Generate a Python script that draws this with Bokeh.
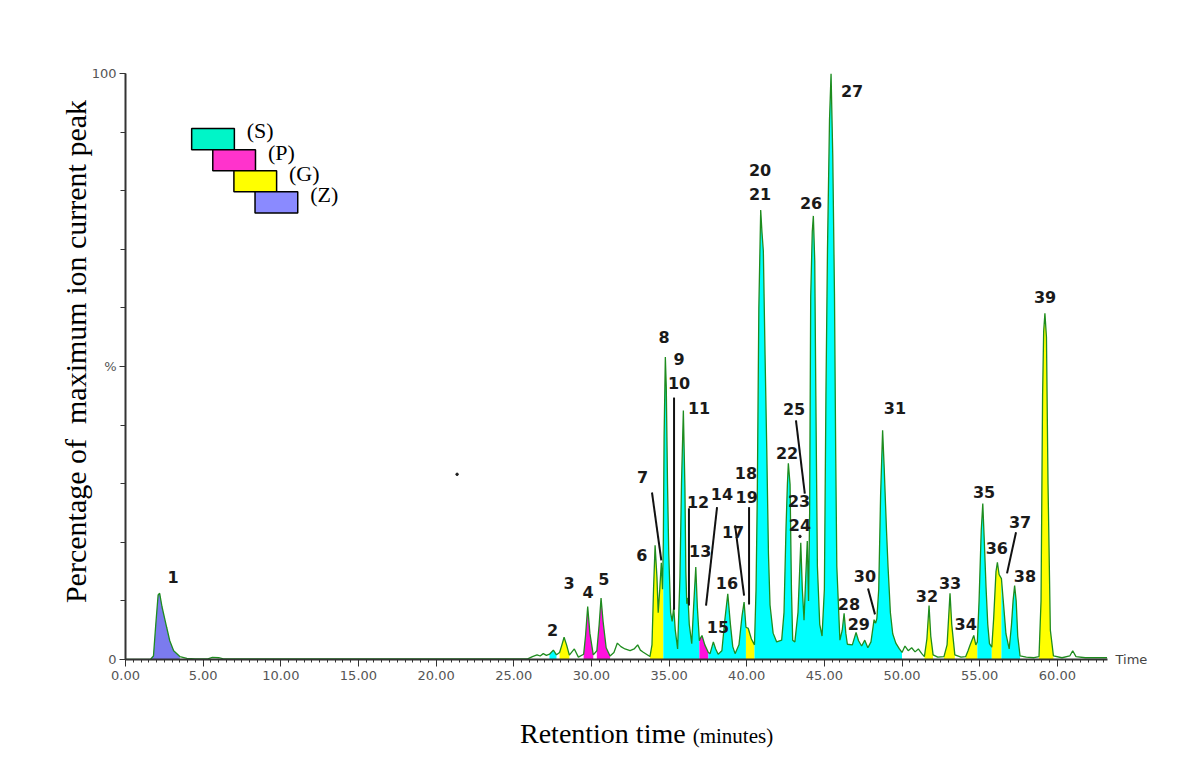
import numpy as np
from bokeh.plotting import figure
from bokeh.layouts import column
from bokeh.models import Range1d, FixedTicker, NumeralTickFormatter, LinearAxis, Div
from bokeh.core.properties import value
from bokeh.embed import file_html
from bokeh.resources import INLINE

# ---------------- data ----------------
trace_time = [0.0, 1.6, 1.8, 1.95, 2.1, 2.2, 2.35, 2.65, 2.85, 3.1, 3.5, 3.95, 4.5, 5.3, 5.6, 6.0, 6.3,
              25.9, 26.2, 26.5, 26.7, 26.9, 27.1, 27.3, 27.55, 27.75, 27.95, 28.1, 28.24, 28.4, 28.58,
              28.9, 29.16, 29.5, 29.62, 29.76, 29.9, 30.12, 30.35, 30.5, 30.62, 30.75, 30.95, 31.2,
              31.45, 31.67, 31.9, 32.16, 32.49, 32.75, 32.98, 33.15, 33.34, 33.77, 33.9, 34.0, 34.1,
              34.22, 34.3, 34.4, 34.5, 34.58, 34.63, 34.68, 34.76, 34.82, 34.9, 34.98, 35.1, 35.2,
              35.3, 35.4, 35.55, 35.7, 35.8, 35.92, 36.02, 36.08, 36.14, 36.22, 36.3, 36.46, 36.58,
              36.72, 36.82, 36.95, 37.05, 37.12, 37.3, 37.53, 37.64, 37.85, 38.0, 38.16, 38.4, 38.6,
              38.78, 38.95, 39.1, 39.25, 39.5, 39.7, 39.83, 39.95, 40.1, 40.3, 40.5, 40.6, 40.68,
              40.78, 40.9, 40.98, 41.07, 41.18, 41.29, 41.4, 41.5, 41.7, 41.93, 42.25, 42.4, 42.53,
              42.62, 42.68, 42.79, 42.88, 42.96, 43.1, 43.3, 43.48, 43.58, 43.69, 43.8, 43.9, 43.98,
              44.05, 44.12, 44.22, 44.29, 44.38, 44.45, 44.55, 44.7, 44.85, 45.0, 45.1, 45.2, 45.33,
              45.43, 45.54, 45.65, 45.73, 45.8, 46.0, 46.15, 46.27, 46.38, 46.48, 46.8, 47.04, 47.2,
              47.4, 47.6, 47.8, 48.0, 48.2, 48.3, 48.38, 48.5, 48.62, 48.75, 48.85, 49.0, 49.1, 49.25,
              49.4, 49.6, 49.83, 50.0, 50.19, 50.4, 50.62, 50.84, 51.05, 51.27, 51.44, 51.6, 51.74,
              51.85, 52.0, 52.3, 52.7, 52.9, 53.09, 53.2, 53.4, 53.8, 54.1, 54.25, 54.37, 54.62,
              54.75, 54.85, 54.96, 55.1, 55.2, 55.3, 55.41, 55.52, 55.63, 55.78, 55.9, 56.05, 56.14,
              56.25, 56.4, 56.55, 56.69, 56.9, 57.05, 57.15, 57.25, 57.35, 57.45, 57.6, 58.0, 58.5,
              58.82, 58.95, 59.05, 59.12, 59.2, 59.3, 59.4, 59.55, 59.75, 60.3, 60.8, 60.99, 61.2,
              61.8, 62.5, 63.2]
trace_pct = [0.0, 0.0, 0.6, 6.0, 11.0, 11.3, 9.0, 5.5, 3.2, 1.5, 0.5, 0.2, 0.1, 0.1, 0.35, 0.3, 0.1,
             0.1, 0.5, 0.8, 0.6, 1.0, 0.7, 0.9, 1.6, 0.8, 1.2, 2.5, 3.8, 2.5, 0.75,
             1.8, 0.4, 0.9, 4.0, 9.05, 4.5, 0.8, 1.5, 6.0, 10.5, 6.5, 2.0, 0.6,
             1.2, 2.8, 2.2, 1.8, 1.5, 1.8, 2.5, 1.6, 1.25, 0.5, 2.5, 12.0, 19.5,
             14.0, 8.0, 12.0, 16.5, 12.0, 20.0, 38.0, 51.6, 46.5, 30.0, 18.0, 8.0, 6.5,
             8.9, 5.0, 1.8, 14.0, 30.0, 42.5, 29.4, 15.0, 9.5, 10.5, 6.0, 2.7, 9.0,
             15.8, 9.0, 3.2, 3.8, 4.1, 2.5, 1.2, 1.0, 3.0, 1.8, 0.9, 1.5, 7.0,
             11.2, 6.0, 2.2, 1.0, 2.5, 7.5, 9.8, 5.5, 5.3, 3.5, 2.5, 12.0, 27.9,
             60.0, 76.7, 73.0, 69.7, 52.0, 35.9, 18.0, 9.3, 4.5, 3.0, 3.3, 8.0, 22.5,
             30.0, 33.5, 29.9, 12.0, 3.3, 3.0, 8.0, 19.9, 12.0, 6.7, 14.0, 20.2, 10.0,
             25.0, 62.0, 73.0, 75.7, 68.0, 45.0, 15.9, 6.0, 4.0, 12.0, 45.0, 70.0, 92.0,
             100.0, 86.0, 62.4, 35.0, 15.9, 3.3, 5.0, 7.9, 4.5, 2.6, 2.5, 4.6, 3.2,
             2.3, 3.3, 2.0, 3.0, 6.8, 6.2, 7.0, 12.0, 28.0, 39.1, 32.8, 22.0, 15.8, 8.0,
             4.4, 2.8, 1.8, 1.2, 2.3, 1.5, 2.0, 1.3, 1.8, 1.0, 0.5, 3.5, 9.2,
             4.0, 0.8, 0.4, 0.5, 2.5, 11.3, 6.0, 0.8, 0.4, 0.5, 1.5, 2.4, 4.1,
             2.5, 3.0, 10.0, 22.0, 26.6, 20.0, 12.3, 6.0, 2.7, 2.1, 7.0, 15.0, 16.6,
             14.5, 13.8, 9.0, 4.4, 1.8, 6.0, 10.0, 12.6, 10.0, 4.0, 0.6, 0.4, 0.3,
             0.5, 10.0, 45.0, 56.0, 59.1, 55.0, 30.0, 5.0, 0.6, 0.3, 0.6, 1.5, 0.5,
             0.3, 0.3, 0.3]

# coloured (classified) regions of the trace
region_start = [1.6, 27.3, 27.95, 29.5, 30.35, 33.77, 34.63, 36.95, 37.53, 39.95, 40.5,
                51.44, 52.7, 54.1, 54.85, 55.78, 56.4, 58.82]
region_end = [3.5, 27.75, 28.58, 30.12, 31.2, 34.63, 36.95, 37.53, 39.95, 40.5, 50.0,
              52.0, 53.4, 54.85, 55.78, 56.4, 57.6, 59.75]
region_class = ["Z", "S", "G", "P", "P", "G", "S", "P", "S", "G", "S",
                "G", "G", "G", "S", "G", "S", "G"]

# peak numbers
peak_ids = [str(i) for i in range(1, 40)]
peak_label_t = [3.06, 27.5, 28.56, 29.78, 30.8, 33.25, 33.3, 34.67, 35.64, 35.64, 36.93, 36.87,
                37.0, 38.4, 38.15, 38.73, 39.12, 39.95, 40.0, 40.86, 40.86, 42.6, 43.37, 43.43,
                43.05, 44.14, 46.78, 46.58, 47.22, 47.61, 49.54, 51.6, 53.09, 54.1, 55.28, 56.1,
                57.6, 57.91, 59.21]
peak_label_pct = [14.0, 5.1, 13.1, 11.6, 13.7, 17.9, 31.1, 55.1, 51.2, 47.1, 42.9, 26.8,
                  18.6, 28.2, 5.6, 13.1, 21.7, 31.9, 27.7, 83.5, 79.4, 35.2, 27.1, 23.0,
                  42.7, 77.9, 97.0, 9.4, 6.0, 14.2, 42.9, 10.8, 13.1, 6.1, 28.5, 19.0,
                  23.4, 14.3, 61.8]

# leader lines (from label to peak)
leader_t0 = [33.9, 35.32, 36.28, 38.09, 39.25, 40.15, 43.17, 47.81, 57.34]
leader_p0 = [28.5, 44.7, 25.8, 26.0, 22.9, 26.0, 40.8, 12.1, 21.7]
leader_t1 = [34.5, 35.32, 36.28, 37.38, 39.83, 40.15, 43.74, 48.26, 56.76]
leader_p1 = [16.9, 8.5, 9.2, 9.2, 10.9, 9.4, 28.3, 7.7, 14.7]

legend_names = ["S", "P", "G", "Z"]
fill_colors = {"S": "#00FFFF", "P": "#FF11DD", "G": "#FFFF00", "Z": "#7B7BEE"}
legend_colors = {"S": "#00F5C8", "P": "#FF33CC", "G": "#FFFF00", "Z": "#8A8AFF"}

x_major = [0, 5, 10, 15, 20, 25, 30, 35, 40, 45, 50, 55, 60]
y_major = [0, 50, 100]
y_labels = {0: "0", 50: "%", 100: "100"}

# ---------------- figure ----------------
p = figure(width=1192, height=700, x_range=Range1d(0, 63.23), y_range=Range1d(0, 100),
           output_backend="svg", toolbar_location=None,
           min_border_left=125, min_border_right=85, min_border_top=73, min_border_bottom=41)
p.outline_line_color = None
p.xgrid.visible = False
p.ygrid.visible = False
p.background_fill_color = "white"

t = np.array(trace_time)
v = np.array(trace_pct)
for s, e, c in zip(region_start, region_end, region_class):
    m = (t >= s - 1e-9) & (t <= e + 1e-9)
    p.varea(x=t[m], y1=0, y2=v[m], fill_color=fill_colors[c])

p.line(t, v, line_color="#1E8C1E", line_width=1.3)

# leader lines
p.segment(x0=leader_t0, y0=leader_p0, x1=leader_t1, y1=leader_p1, line_color="#111111", line_width=2)

# stray marks
p.scatter(x=[21.35, 43.43], y=[31.6, 21.0], size=2.5, color="#222222")

# peak numbers
p.text(x=peak_label_t, y=peak_label_pct, text=peak_ids, text_font=value("DejaVu Sans"),
       text_font_style="bold", text_font_size="16px", text_align="center",
       text_baseline="middle", text_color="#1a1a1a")

# legend boxes (stair-step)
box_w, box_h = 2.75, 3.6
x0, y0, dx = 4.26, 90.6, 1.36
lefts = [x0 + i * dx for i in range(4)]
tops = [y0 - i * box_h for i in range(4)]
p.quad(left=lefts, right=[l + box_w for l in lefts], top=tops, bottom=[tp - box_h for tp in tops],
       fill_color=[legend_colors[n] for n in legend_names], line_color="black", line_width=1.5)
p.text(x=[l + box_w + 0.8 for l in lefts], y=[tp - 0.4 for tp in tops],
       text=["(" + n + ")" for n in legend_names], text_font=value("Liberation Serif"),
       text_font_size="22px", text_baseline="middle", text_align="left", text_color="black")

# axes
xa = p.xaxis[0]
xa.ticker = FixedTicker(ticks=x_major, minor_ticks=[i * 0.5 for i in range(0, 127)])
xa.formatter = NumeralTickFormatter(format="0.00")
xa.axis_line_color = "#333333"
xa.axis_line_width = 2
xa.major_tick_line_color = "#333333"
xa.minor_tick_line_color = "#333333"
xa.major_tick_out = 7
xa.major_tick_in = 0
xa.minor_tick_out = 3
xa.minor_tick_in = 0
xa.major_label_text_font = "DejaVu Sans"
xa.major_label_text_font_size = "13px"
xa.major_label_text_color = "#555555"
xa.major_label_standoff = 4

ya = p.yaxis[0]
ya.ticker = FixedTicker(ticks=y_major, minor_ticks=list(range(0, 101, 10)))
ya.major_label_overrides = y_labels
ya.axis_line_color = "#333333"
ya.axis_line_width = 2
ya.major_tick_line_color = "#333333"
ya.minor_tick_line_color = "#333333"
ya.major_tick_out = 6
ya.major_tick_in = 0
ya.minor_tick_out = 5
ya.minor_tick_in = 0
ya.major_label_text_font = "DejaVu Sans"
ya.major_label_text_font_size = "13px"
ya.major_label_text_color = "#555555"
ya.major_label_standoff = 3
ya.axis_label = "\u00a0\u00a0\u00a0\u00a0Percentage of\u00a0 maximum ion current peak"
ya.axis_label_text_font = "Liberation Serif"
ya.axis_label_text_font_size = "30px"
ya.axis_label_text_font_style = "normal"
ya.axis_label_text_color = "black"
ya.axis_label_standoff = -3

# "Time" at the end of the x axis: a bare right-hand axis with a single labelled tick at 0
ra = LinearAxis(ticker=FixedTicker(ticks=[0]), major_label_overrides={0: "Time"},
                axis_line_color=None, major_tick_line_color=None, minor_tick_line_color=None,
                major_tick_out=0, major_tick_in=0, minor_tick_out=0, minor_tick_in=0,
                major_label_standoff=8, major_label_text_font="DejaVu Sans",
                major_label_text_font_size="13px", major_label_text_color="#444444")
p.add_layout(ra, "right")

title_div = Div(text='<div style="padding-left:515px; padding-top:9px; white-space:nowrap; '
                     'font-family:\'Liberation Serif\'; color:black;">'
                     '<span style="font-size:28px;">Retention time</span>'
                     '<span style="font-size:21px; margin-left:7px;">(minutes)</span></div>',
                width=1192, height=70)

layout = column(p, title_div, spacing=0)
open("out.html", "w").write(file_html(layout, INLINE))
